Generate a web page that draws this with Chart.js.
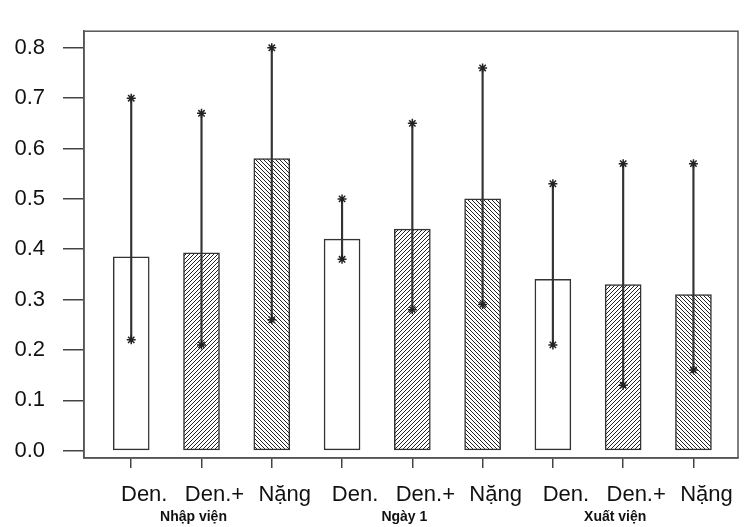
<!DOCTYPE html>
<html>
<head>
<meta charset="utf-8">
<script src="https://cdn.jsdelivr.net/npm/chart.js@4.4.1/dist/chart.umd.min.js"></script>
<style>
  html, body { margin: 0; padding: 0; background: #fff; }
  #wrap { width: 744px; height: 527px; }
</style>
</head>
<body>
<div id="wrap"><canvas id="chart" width="744" height="527"></canvas></div>
<script>
// Data
const categories = ["Den.", "Den.+", "Nặng", "Den.", "Den.+", "Nặng", "Den.", "Den.+", "Nặng"];
const groups = ["Nhập viện", "Ngày 1", "Xuất viện"];
const means = [0.385, 0.393, 0.58, 0.42, 0.44, 0.50, 0.34, 0.33, 0.31];
const lows = [0.22, 0.21, 0.26, 0.38, 0.28, 0.29, 0.21, 0.13, 0.16];
const highs = [0.70, 0.67, 0.80, 0.50, 0.65, 0.76, 0.53, 0.57, 0.57];
const yTicks = [0, 0.1, 0.2, 0.3, 0.4, 0.5, 0.6, 0.7, 0.8];

const FONT = "'Liberation Sans', Arial, sans-serif";
const INK = "#333";

// diagonal hatch tile, dir 1 = "/" , dir -1 = "\"
function hatch(dir) {
  const s = 4;
  const c = document.createElement("canvas");
  c.width = c.height = s;
  const g = c.getContext("2d");
  g.fillStyle = "#fff";
  g.fillRect(0, 0, s, s);
  g.strokeStyle = "#222";
  g.lineWidth = 1;
  g.beginPath();
  if (dir > 0) {
    g.moveTo(0, s); g.lineTo(s, 0);
    g.moveTo(-1, 1); g.lineTo(1, -1);
    g.moveTo(s - 1, s + 1); g.lineTo(s + 1, s - 1);
  } else {
    g.moveTo(0, 0); g.lineTo(s, s);
    g.moveTo(-1, s - 1); g.lineTo(1, s + 1);
    g.moveTo(s - 1, -1); g.lineTo(s + 1, 1);
  }
  g.stroke();
  return g.createPattern(c, "repeat");
}

const fills = { "Den.": "#fff", "Den.+": hatch(1), "Nặng": hatch(-1) };

// box around the plot region
const frame = {
  id: "frame",
  afterDraw(chart) {
    const { ctx, chartArea: a } = chart;
    ctx.save();
    ctx.strokeStyle = "#555";
    ctx.lineWidth = 1.5;
    ctx.strokeRect(a.left, a.top, a.right - a.left, a.bottom - a.top);
    ctx.restore();
  }
};

const xMin = -0.672, xMax = 8.634;

new Chart(document.getElementById("chart"), {
  type: "bar",
  data: {
    datasets: [
      {
        type: "scatter",
        order: 0,
        data: lows.map((v, i) => ({ x: i, y: v })).concat(highs.map((v, i) => ({ x: i, y: v }))),
        pointStyle: "star",
        pointRadius: 4.5,
        borderColor: "#222",
        borderWidth: 1.5,
        backgroundColor: "transparent"
      },
      {
        order: 1,
        grouped: false,
        data: lows.map((v, i) => ({ x: i, y: [v, highs[i]] })),
        barThickness: 1.5,
        backgroundColor: INK,
        borderWidth: 0
      },
      {
        order: 2,
        grouped: false,
        data: means.map((v, i) => ({ x: i, y: v })),
        barThickness: 36,
        backgroundColor: categories.map(c => fills[c]),
        borderColor: INK,
        borderWidth: 1.5,
        borderSkipped: false
      }
    ]
  },
  options: {
    responsive: false,
    animation: false,
    layout: { padding: { top: 12, right: 1.5, left: 0, bottom: 0 } },
    plugins: { legend: { display: false }, tooltip: { enabled: false } },
    scales: {
      x: {
        type: "linear",
        position: "bottom",
        offset: false,
        min: xMin,
        max: xMax,
        afterBuildTicks: s => { s.ticks = categories.map((c, i) => ({ value: i })); },
        afterFit: s => { s.height = 51; },
        ticks: {
          callback: (v, i) => categories[i],
          font: { family: FONT, size: 22 },
          color: "#111",
          padding: 14,
          labelOffset: 13,
          maxRotation: 0,
          autoSkip: false
        },
        grid: { drawOnChartArea: false, offset: false, tickLength: 10, color: "#444", lineWidth: 1.5 },
        border: { display: true, color: "#555", width: 1.5 }
      },
      xg: {
        type: "linear",
        position: "bottom",
        offset: false,
        min: xMin,
        max: xMax,
        afterBuildTicks: s => { s.ticks = groups.map((g, i) => ({ value: i * 3 + 1 })); },
        afterFit: s => { s.height = 18; },
        ticks: {
          callback: (v, i) => groups[i],
          font: { family: FONT, size: 14, weight: "bold" },
          color: "#111",
          padding: 0,
          labelOffset: -8,
          maxRotation: 0,
          autoSkip: false
        },
        grid: { display: false, drawTicks: false, offset: false },
        border: { display: false }
      },
      y: {
        type: "linear",
        min: -0.0146,
        max: 0.833,
        afterBuildTicks: s => { s.ticks = yTicks.map(v => ({ value: v })); },
        afterFit: s => { s.width = 84; },
        ticks: {
          callback: (v, i) => yTicks[i].toFixed(1),
          font: { family: FONT, size: 22 },
          color: "#111",
          padding: 18
        },
        grid: { drawOnChartArea: false, tickLength: 21, color: "#444", lineWidth: 1.5 },
        border: { display: true, color: "#555", width: 1.5 }
      }
    }
  },
  plugins: [frame]
});
</script>
</body>
</html>
